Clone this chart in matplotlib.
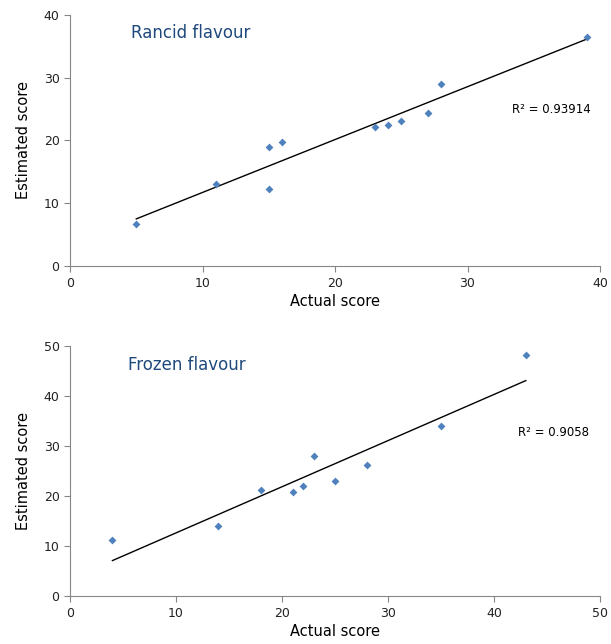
import numpy as np
import matplotlib.pyplot as plt

# Rancid flavour
rancid_actual = [5, 11, 15, 15, 16, 23, 24, 25, 27, 28, 39]
rancid_est = [6.7, 13.0, 18.9, 12.3, 19.7, 22.2, 22.5, 23.1, 24.4, 29.0, 36.5]
rancid_r2 = "R² = 0.93914"

# Frozen flavour
frozen_actual = [4, 14, 18, 21, 22, 23, 25, 28, 35, 43]
frozen_est = [11.3, 14.0, 21.3, 20.8, 22.0, 28.1, 23.1, 26.2, 34.0, 48.2]
frozen_r2 = "R² = 0.9058"

fig = plt.figure(figsize=(6.11, 6.44), dpi=100)
ax1 = fig.add_axes([0.1146, 0.587, 0.8674, 0.3898])
ax2 = fig.add_axes([0.1146, 0.0745, 0.8674, 0.3882])


def panel(ax, x, y, title, r2, xmax, ymax, title_pos, r2_pos):
    x = np.array(x)
    y = np.array(y)
    ax.scatter(x, y, marker='D', s=16, color='#4F81BD', zorder=3, linewidths=0)
    # linear trend line over the data range
    m, b = np.polyfit(x, y, 1)
    xs = np.array([x.min(), x.max()])
    ax.plot(xs, m * xs + b, color='black', lw=1)
    ax.set_xlim(0, xmax)
    ax.set_ylim(0, ymax)
    ax.set_xticks(np.arange(0, xmax + 1, 10))
    ax.set_yticks(np.arange(0, ymax + 1, 10))
    for s in ['top', 'right']:
        ax.spines[s].set_visible(False)
    for s in ['left', 'bottom']:
        ax.spines[s].set_color('#868686')
    ax.tick_params(direction='out', length=4, color='#868686', labelsize=9, labelcolor='#222222')
    ax.tick_params(axis='x', pad=4)
    ax.set_xlabel("Actual score", fontsize=10.5, labelpad=3)
    ax.set_ylabel("Estimated score", fontsize=10.5, labelpad=9)
    ax.text(title_pos[0], title_pos[1], title, transform=ax.transAxes, fontsize=12,
            color='#1F497D', va='center', ha='left')
    ax.text(r2_pos[0], r2_pos[1], r2, transform=ax.transAxes, fontsize=8.5,
            ha='right', va='center')


panel(ax1, rancid_actual, rancid_est, "Rancid flavour", rancid_r2, 40, 40,
      (0.115, 0.928), (0.983, 0.625))
panel(ax2, frozen_actual, frozen_est, "Frozen flavour", frozen_r2, 50, 50,
      (0.109, 0.924), (0.979, 0.656))

fig.savefig("out.png", dpi=100)
